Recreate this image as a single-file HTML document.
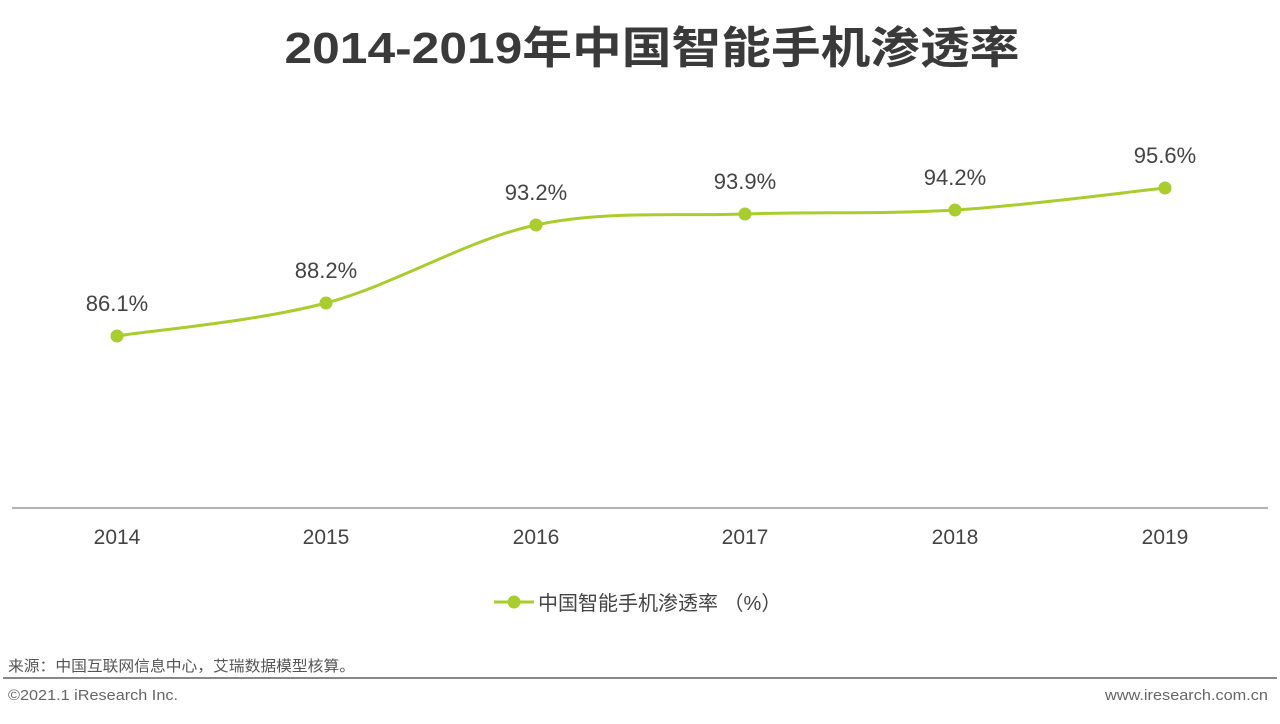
<!DOCTYPE html>
<html><head><meta charset="utf-8"><style>
body{margin:0;width:1280px;height:719px;background:#fff;overflow:hidden;font-family:"Liberation Sans","Noto Sans CJK SC",sans-serif}
</style></head><body>
<svg width="1280" height="719" xmlns="http://www.w3.org/2000/svg" font-family="Liberation Sans, Noto Sans CJK SC, sans-serif">
<text x="652" y="63" text-anchor="middle" font-size="44" font-weight="bold" fill="#3a3a3a" textLength="735" lengthAdjust="spacingAndGlyphs">2014-2019年中国智能手机渗透率</text>
<line x1="12" y1="508" x2="1268" y2="508" stroke="#999" stroke-width="1.5"/>
<g font-size="21" fill="#444" text-anchor="middle">
<text x="117" y="544">2014</text><text x="326" y="544">2015</text><text x="536" y="544">2016</text>
<text x="745" y="544">2017</text><text x="955" y="544">2018</text><text x="1165" y="544">2019</text>
</g>
<path d="M117,336 C151.8,330.5 256.2,321.5 326,303 C395.8,284.5 466.2,239.8 536,225 C605.8,210.2 675.2,216.5 745,214 C814.8,211.5 885,214.3 955,210 C1025,205.7 1130,191.7 1165,188" fill="none" stroke="#a9cd2c" stroke-width="3"/>
<g fill="#a9cd2c">
<circle cx="117" cy="336" r="6.5"/><circle cx="326" cy="303" r="6.5"/><circle cx="536" cy="225" r="6.5"/>
<circle cx="745" cy="214" r="6.5"/><circle cx="955" cy="210" r="6.5"/><circle cx="1165" cy="188" r="6.5"/>
</g>
<g font-size="22" fill="#444" text-anchor="middle">
<text x="117" y="311">86.1%</text><text x="326" y="278">88.2%</text><text x="536" y="200">93.2%</text>
<text x="745" y="189">93.9%</text><text x="955" y="185">94.2%</text><text x="1165" y="163">95.6%</text>
</g>
<line x1="494" y1="602" x2="534" y2="602" stroke="#a9cd2c" stroke-width="3"/>
<circle cx="514" cy="602" r="6.5" fill="#a9cd2c"/>
<text x="538" y="610" font-size="20" fill="#444">中国智能手机渗透率 （%）</text>
<text x="8" y="671" font-size="15" fill="#555" textLength="347" lengthAdjust="spacingAndGlyphs">来源：中国互联网信息中心，艾瑞数据模型核算。</text>
<line x1="3" y1="678" x2="1277" y2="678" stroke="#888" stroke-width="2"/>
<text x="8" y="700" font-size="15" fill="#666" textLength="170" lengthAdjust="spacingAndGlyphs">©2021.1 iResearch Inc.</text>
<text x="1105" y="700" font-size="15" fill="#666" textLength="163" lengthAdjust="spacingAndGlyphs">www.iresearch.com.cn</text>
</svg>
</body></html>
